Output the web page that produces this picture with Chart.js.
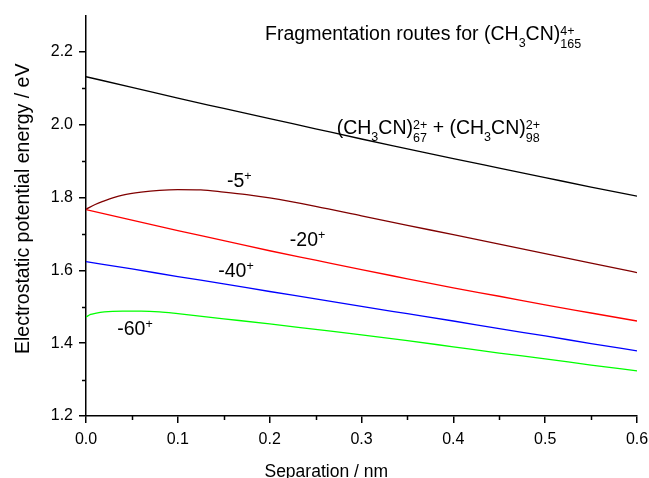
<!DOCTYPE html>
<html>
<head>
<meta charset="utf-8">
<script src="https://cdn.jsdelivr.net/npm/chart.js@4.4.1/dist/chart.umd.min.js"></script>
<style>
  html, body { margin: 0; padding: 0; background: #fff; }
</style>
</head>
<body>
<canvas id="energyChart" width="649" height="478"></canvas>
<script>
  // separation (nm) and electrostatic energy (eV)
  const sepGrid = [0, 0.05, 0.1, 0.15, 0.2, 0.25, 0.3, 0.35, 0.4, 0.45, 0.5, 0.55, 0.6];
  const energy2plus2 = [2.132, 2.103, 2.073, 2.045, 2.017, 1.989, 1.961, 1.934, 1.907, 1.881, 1.855, 1.829, 1.804];
  const energyMinus20 = [1.767, 1.738, 1.709, 1.682, 1.654, 1.628, 1.602, 1.577, 1.552, 1.529, 1.505, 1.483, 1.461];
  const energyMinus40 = [1.624, 1.604, 1.583, 1.563, 1.542, 1.522, 1.501, 1.481, 1.461, 1.440, 1.420, 1.399, 1.379];

  const sepMinus5 = [0, 0.01, 0.02, 0.03, 0.04, 0.06, 0.08, 0.1, 0.125, 0.15, 0.175, 0.2, 0.25, 0.3, 0.35, 0.4, 0.45, 0.5, 0.55, 0.6];
  const energyMinus5 = [1.768, 1.781, 1.791, 1.800, 1.807, 1.815, 1.820, 1.822, 1.821, 1.815, 1.808, 1.799, 1.776, 1.750, 1.724, 1.698, 1.672, 1.646, 1.620, 1.594];

  const sepMinus60 = [0, 0.005, 0.01, 0.02, 0.04, 0.06, 0.08, 0.1, 0.15, 0.2, 0.25, 0.3, 0.35, 0.4, 0.45, 0.5, 0.55, 0.6];
  const energyMinus60 = [1.472, 1.479, 1.482, 1.486, 1.488, 1.488, 1.486, 1.481, 1.467, 1.453, 1.438, 1.423, 1.407, 1.390, 1.373, 1.357, 1.340, 1.324];

  const FONT = '"Liberation Sans", Arial, sans-serif';

  function pts(xs, ys) {
    return xs.map((x, i) => ({ x: x, y: ys[i] }));
  }

  function series(xs, ys, color) {
    return {
      data: pts(xs, ys),
      borderColor: color,
      borderWidth: 1.3,
      pointRadius: 0,
      fill: false,
      cubicInterpolationMode: 'monotone'
    };
  }

  // text with sub/superscripts, parts are strings or {sub, sup}
  function drawRich(ctx, x, y, parts) {
    const big = '19.5px ' + FONT;
    const small = '12.5px ' + FONT;
    ctx.fillStyle = '#000';
    ctx.textBaseline = 'alphabetic';
    ctx.textAlign = 'left';
    parts.forEach(p => {
      if (typeof p === 'string') {
        ctx.font = big;
        ctx.fillText(p, x, y);
        x += ctx.measureText(p).width;
      } else {
        ctx.font = small;
        let w = 0;
        if (p.sup) {
          ctx.fillText(p.sup, x, y - (p.sup === '+' ? 7 : 5));
          w = Math.max(w, ctx.measureText(p.sup).width);
        }
        if (p.sub) {
          ctx.fillText(p.sub, x, y + (p.sup ? 8 : 7));
          w = Math.max(w, ctx.measureText(p.sub).width);
        }
        x += w;
      }
    });
  }

  const notes = [
    { x: 0.195, y: 2.233, parts: ['Fragmentation routes for (CH', { sub: '3' }, 'CN)', { sup: '4+', sub: '165' }] },
    { x: 0.273, y: 1.975, parts: ['(CH', { sub: '3' }, 'CN)', { sup: '2+', sub: '67' }, ' + (CH', { sub: '3' }, 'CN)', { sup: '2+', sub: '98' }] },
    { x: 0.1535, y: 1.830, parts: ['-5', { sup: '+' }] },
    { x: 0.222, y: 1.668, parts: ['-20', { sup: '+' }] },
    { x: 0.144, y: 1.582, parts: ['-40', { sup: '+' }] },
    { x: 0.034, y: 1.422, parts: ['-60', { sup: '+' }] }
  ];

  const decorPlugin = {
    id: 'decor',
    afterDraw(chart) {
      const ctx = chart.ctx;
      const xs = chart.scales.x, ys = chart.scales.y;
      const area = chart.chartArea;
      ctx.save();
      // minor ticks
      ctx.strokeStyle = '#000';
      ctx.lineWidth = 1.5;
      ctx.beginPath();
      for (let v = 0.05; v < 0.6; v += 0.1) {
        const px = Math.round(xs.getPixelForValue(v)) + 0.5;
        ctx.moveTo(px, area.bottom);
        ctx.lineTo(px, area.bottom + 4);
      }
      for (let v = 1.3; v < 2.3; v += 0.2) {
        const py = Math.round(ys.getPixelForValue(v)) + 0.5;
        ctx.moveTo(area.left, py);
        ctx.lineTo(area.left - 4, py);
      }
      ctx.stroke();

      notes.forEach(n => drawRich(ctx, xs.getPixelForValue(n.x), ys.getPixelForValue(n.y), n.parts));

      // axis titles
      ctx.fillStyle = '#000';
      ctx.textAlign = 'center';
      ctx.textBaseline = 'alphabetic';
      ctx.font = '17.5px ' + FONT;
      ctx.fillText('Separation / nm', area.left + area.width * 0.436, 477);
      ctx.font = '19.5px ' + FONT;
      ctx.translate(29, (area.top + area.bottom) / 2 - 7);
      ctx.rotate(-Math.PI / 2);
      ctx.fillText('Electrostatic potential energy / eV', 0, 0);
      ctx.restore();
    }
  };

  const ctx = document.getElementById('energyChart').getContext('2d');
  const chart = new Chart(ctx, {
    type: 'line',
    data: {
      datasets: [
        series(sepGrid, energy2plus2, '#000000'),
        series(sepMinus5, energyMinus5, '#800000'),
        series(sepGrid, energyMinus20, '#ff0000'),
        series(sepGrid, energyMinus40, '#0000ff'),
        series(sepMinus60, energyMinus60, '#00ff00')
      ]
    },
    options: {
      responsive: false,
      animation: false,
      layout: { padding: { top: 14, right: 12, left: 0, bottom: 0 } },
      plugins: {
        legend: { display: false },
        tooltip: { enabled: false }
      },
      scales: {
        x: {
          type: 'linear',
          min: 0,
          max: 0.6,
          afterFit(scale) {
            scale.height = 62;
            scale.paddingRight = 0;
            scale.paddingLeft = 0;
          },
          border: { color: '#000', width: 1.5 },
          grid: { drawOnChartArea: false, tickLength: 7, color: '#000', lineWidth: 1.5 },
          ticks: {
            stepSize: 0.1,
            color: '#000',
            padding: 7,
            maxRotation: 0,
            font: { family: FONT, size: 16 },
            callback: v => v.toFixed(1)
          }
        },
        y: {
          min: 1.2,
          max: 2.3,
          afterFit(scale) { scale.width = 86; },
          border: { color: '#000', width: 1.5 },
          grid: { drawOnChartArea: false, tickLength: 7, color: '#000', lineWidth: 1.5 },
          ticks: {
            stepSize: 0.2,
            includeBounds: false,
            color: '#000',
            padding: 6,
            font: { family: FONT, size: 16 },
            callback: v => v.toFixed(1)
          }
        }
      }
    },
    plugins: [decorPlugin]
  });
</script>
</body>
</html>
